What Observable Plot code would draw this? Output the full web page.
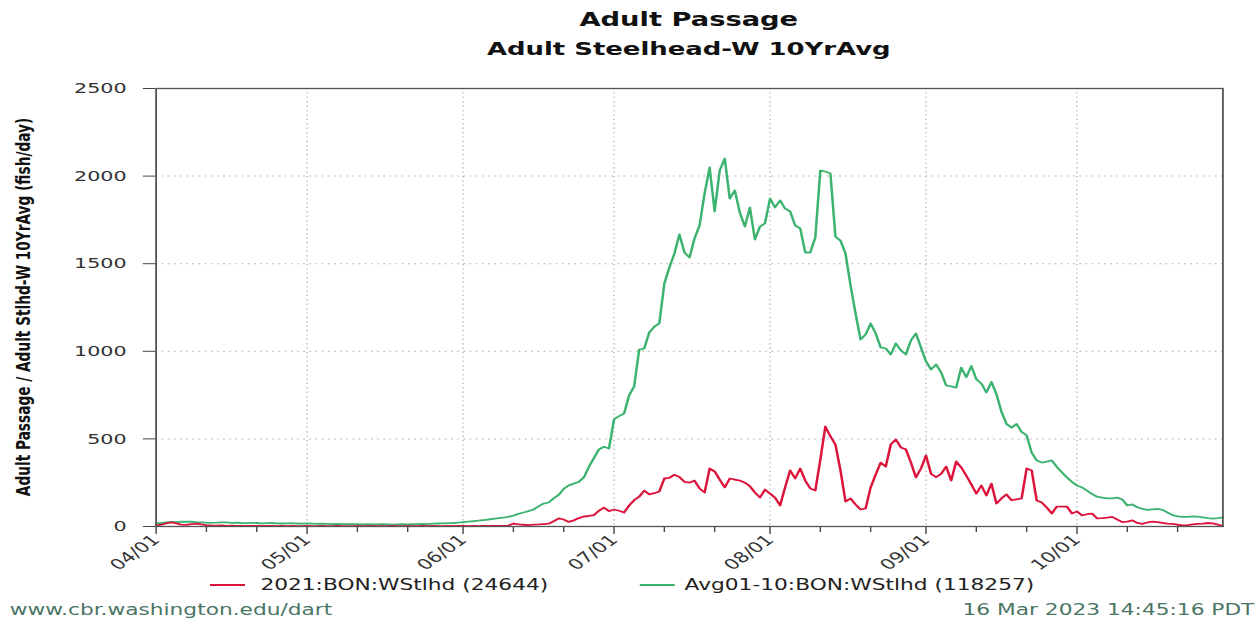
<!DOCTYPE html>
<html>
<head>
<meta charset="utf-8">
<script src="https://cdn.jsdelivr.net/npm/d3@7"></script>
<script src="https://cdn.jsdelivr.net/npm/@observablehq/plot@0.6"></script>
<style>
  html, body { margin: 0; padding: 0; background: #fff; overflow: hidden; }
  #page { position: relative; width: 900px; height: 619px; transform: scaleX(1.4); transform-origin: 0 0; font-family: "DejaVu Sans", sans-serif; color: #111; }
  .t { position: absolute; white-space: nowrap; }
  .sw { position: absolute; height: 2px; }
</style>
</head>
<body>
<div id="page">
  <div class="t" id="title" style="left:111px;width:762px;top:8px;text-align:center;font-weight:bold;font-size:19.5px;">Adult Passage</div>
  <div class="t" id="subtitle" style="left:111px;width:762px;top:38px;text-align:center;font-weight:bold;font-size:18.5px;">Adult Steelhead-W 10YrAvg</div>
  <div id="chart" style="position:absolute;left:0;top:70px;"></div>
  <div class="sw" style="left:150px;width:25px;top:584px;background:crimson;"></div>
  <div class="t" id="leg1" style="left:186px;top:576px;font-size:15.5px;color:#222;"></div>
  <div class="sw" style="left:457px;width:25px;top:584px;background:mediumseagreen;"></div>
  <div class="t" id="leg2" style="left:489px;top:576px;font-size:15.5px;color:#222;"></div>
  <div class="t" id="foot1" style="left:7px;top:601px;font-size:15.5px;color:#4b7565;">www.cbr.washington.edu/dart</div>
  <div class="t" id="foot2" style="right:4px;top:601px;font-size:15.5px;color:#4b7565;">16 Mar 2023 14:45:16 PDT</div>
</div>
<script>
// ---- data (daily values, Apr 1 – Oct 30) ----
const startDate = "2021-04-01";
const seriesNames = ["2021:BON:WStlhd (24644)", "Avg01-10:BON:WStlhd (118257)"];
const seriesColors = ["crimson", "mediumseagreen"];
const yLabel = "Adult Passage / Adult Stlhd-W 10YrAvg (fish/day)";
const yTicks = [0, 500, 1000, 1500, 2000, 2500];
const monthTicks = ["2021-04-01","2021-05-01","2021-06-01","2021-07-01","2021-08-01","2021-09-01","2021-10-01"];
const minorTicks = ["2021-04-11","2021-04-21","2021-05-11","2021-05-21","2021-06-11","2021-06-21","2021-07-11","2021-07-21","2021-08-11","2021-08-21","2021-09-11","2021-09-21","2021-10-11","2021-10-21"];
const endDate = "2021-10-30";

const avgValues = [
  // Apr
  18,20,24,26,25,27,28,27,25,24,22,21,22,24,23,21,22,20,19,21,20,18,19,20,18,17,18,19,17,16,
  // May
  17,16,15,16,15,14,15,14,13,14,13,12,13,12,12,13,12,11,12,13,12,13,14,15,14,16,17,18,19,20,22,
  // Jun
  25,28,30,33,37,40,44,48,51,55,62,72,80,88,97,115,131,137,160,180,215,235,245,255,280,340,390,440,455,445,
  // Jul
  611,630,645,748,800,1010,1016,1107,1140,1159,1387,1478,1558,1667,1564,1535,1644,1718,1901,2049,1798,2032,2100,1872,1918,1792,1712,1821,1638,1712,1730,
  // Aug
  1872,1821,1861,1815,1798,1718,1701,1564,1564,1650,2032,2026,2015,1655,1632,1558,1376,1216,1067,1096,1159,1102,1022,1016,982,1045,1005,982,1062,1102,1022,
  // Sep
  942,896,925,880,805,800,793,907,852,916,840,816,765,825,755,655,585,565,585,540,520,422,377,365,370,377,340,310,280,255,
  // Oct
  234,223,205,185,170,165,160,160,165,154,120,126,110,100,95,98,100,95,80,65,58,55,55,58,56,52,48,45,48,52
];
const y2021Values = [
  // Apr
  5,10,18,23,18,11,9,14,17,12,8,6,5,6,4,5,4,3,4,3,3,4,3,3,2,3,2,3,2,2,
  // May
  3,2,2,3,2,2,3,2,2,2,3,2,2,3,2,2,2,3,2,2,3,2,2,3,2,3,2,2,3,2,3,
  // Jun
  3,2,3,2,3,3,4,3,4,5,17,12,10,8,11,12,14,16,30,46,40,26,35,48,57,60,65,90,108,88,
  // Jul
  97,90,80,120,150,170,205,183,190,200,274,278,295,282,255,250,262,217,194,331,314,268,223,274,268,262,250,230,194,165,211,
  // Aug
  188,165,120,223,320,274,331,262,217,205,382,571,514,468,320,143,160,126,97,103,223,297,365,342,468,497,451,440,365,280,331,
  // Sep
  405,300,282,300,342,262,371,337,291,240,188,234,177,245,131,160,183,150,155,160,331,320,148,137,108,74,114,114,114,74,
  // Oct
  86,63,70,74,46,48,51,55,40,25,28,35,20,15,23,28,25,20,17,15,10,6,8,12,15,17,20,18,11,3
];

// ---- build table ----
const t0 = Date.parse(startDate + "T00:00:00Z");
const day = 864e5;
const rows = avgValues.map((v, i) => ({date: new Date(t0 + i * day), avg: v, y2021: y2021Values[i]}));
const toDate = s => new Date(s + "T00:00:00Z");

document.getElementById("leg1").textContent = seriesNames[0];
document.getElementById("leg2").textContent = seriesNames[1];

const gridStyle = {stroke: "#b0b0b0", strokeOpacity: 1, strokeWidth: 1, strokeDasharray: "1.2,3.2"};

const chart = Plot.plot({
  width: 900,
  height: 510,
  marginLeft: 111,
  marginRight: 27,
  marginTop: 18,
  marginBottom: 54,
  style: {fontFamily: "DejaVu Sans, sans-serif", fontSize: "14.8px", color: "#333", background: "white", overflow: "visible"},
  x: {type: "utc", domain: [toDate(startDate), toDate(endDate)]},
  y: {domain: [0, 2500]},
  marks: [
    Plot.gridX(monthTicks.slice(1).map(toDate), gridStyle),
    Plot.gridY(yTicks.slice(1, -1), gridStyle),
    Plot.axisX(minorTicks.map(toDate), {tickSize: 6, tickFormat: () => "", stroke: "#444", label: null}),
    Plot.axisX(monthTicks.map(toDate), {tickSize: 8, tickPadding: 3, tickRotate: -45, tickFormat: d3.utcFormat("%m/%d"), stroke: "#444", fill: "#333", fontSize: 14.8, label: null}),
    Plot.axisY(yTicks, {tickSize: 9, tickPadding: 12, tickFormat: d => String(d), stroke: "#444", fill: "#333", fontSize: 14.8, label: null}),
    Plot.line(rows, {x: "date", y: "avg", stroke: seriesColors[1], strokeWidth: 1.8}),
    Plot.line(rows, {x: "date", y: "y2021", stroke: seriesColors[0], strokeWidth: 1.8}),
    Plot.frame({stroke: "#555", strokeWidth: 1.3})
  ]
});

d3.select(chart).append("text")
  .attr("transform", `translate(17, ${(18 + 456) / 2}) rotate(-90)`)
  .attr("text-anchor", "middle")
  .attr("dominant-baseline", "central")
  .attr("font-family", "DejaVu Sans, sans-serif")
  .attr("font-weight", "bold")
  .attr("font-size", 13.7)
  .attr("fill", "#111")
  .text(yLabel);

document.getElementById("chart").appendChild(chart);
</script>
</body>
</html>
